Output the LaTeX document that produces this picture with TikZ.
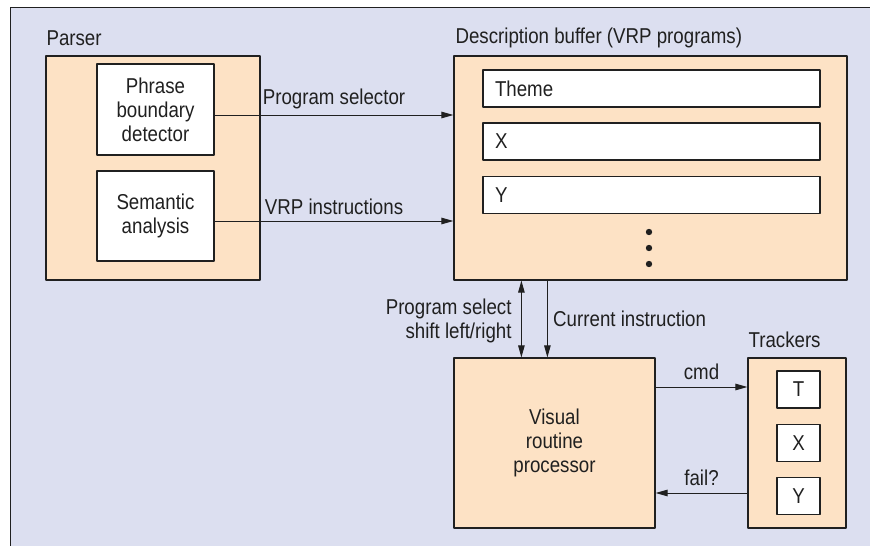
\documentclass[tikz,border=0pt]{standalone}
\usepackage{fontspec}
\setmainfont{Liberation Sans}[FakeStretch=0.87]
\usetikzlibrary{arrows.meta}
\definecolor{panelblue}{RGB}{220,223,240}
\definecolor{peach}{RGB}{253,226,197}
\definecolor{ink}{RGB}{32,32,32}
\begin{document}
\begin{tikzpicture}[x=1pt,y=-1pt,
		font=\fontsize{21.5}{24}\selectfont, text=ink, line join=round,
		>={Triangle[length=12pt,width=6.5pt]},
		unit/.style={draw=ink, line width=1.2pt, fill=peach, inner sep=0pt},
		part/.style={draw=ink, line width=1.2pt, fill=white, inner sep=0pt, align=center},
		link/.style={draw=ink, line width=1pt, ->}]
	\useasboundingbox (0,0) rectangle (870,546);
	% background panel
	\fill[panelblue] (10,7) rectangle (870,546);
	\draw[ink, line width=1pt] (870,7) -- (10,7) -- (10,546);

	% parser
	\node[anchor=west] (lparser) at (43,38) {Parser};
	\node[unit, minimum width=214pt, minimum height=224pt] (parser) at (153,168) {};
	\node[part, minimum width=117pt, minimum height=91pt] (phrase) at (155.5,109.5) {Phrase\\boundary\\detector};
	\node[part, minimum width=117pt, minimum height=90pt] (semantic) at (155.5,216) {Semantic\\analysis};

	% description buffer
	\node[anchor=west] (lbuffer) at (452,38) {Description buffer (VRP programs)};
	\node[unit, minimum width=393pt, minimum height=224pt] (buffer) at (650.5,168) {};
	\foreach \y/\name in {88.5/Theme,141.5/X,195/Y}
		\node[part, minimum width=337pt, minimum height=37pt, text width=313pt, align=left] (slot\name) at (651.5,\y) {\name};
	\foreach \y in {232,248,264}
		\fill[ink] (649,\y) circle (3.2pt);

	% visual routine processor and trackers
	\node[unit, minimum width=201pt, minimum height=170pt, align=center] (proc) at (554.5,443) {Visual\\routine\\processor};
	\node[anchor=west] (ltrackers) at (745,340) {Trackers};
	\node[unit, minimum width=98pt, minimum height=170pt] (trackers) at (797,443) {};
	\foreach \y/\name in {389.5/T,443/X,496/Y}
		\node[part, minimum width=43pt, minimum height=37pt] (trk\name) at (798.5,\y) {\name};

	% connectors
	\draw[link] ([yshift=-5.5pt]phrase.east) -- ([yshift=-5.5pt]phrase.east -| buffer.west)
		node[midway, above=2pt] {Program selector};
	\draw[link] ([yshift=-5pt]semantic.east) -- ([yshift=-5pt]semantic.east -| buffer.west)
		node[midway, above=2pt] {VRP instructions};
	\coordinate (upx) at ([xshift=68pt]proc.north west);
	\coordinate (downx) at ([xshift=94pt]proc.north west);
	\draw[link, <->] (upx) -- (upx |- buffer.south)
		node[pos=0.47, left=6pt, align=right] {Program select\\shift left/right};
	\draw[link] (downx |- buffer.south) -- (downx)
		node[pos=0.5, right=2pt] {Current instruction};
	\draw[link] ([yshift=2.5pt]proc.east |- trkT) -- ([yshift=2.5pt]trackers.west |- trkT)
		node[midway, above=3pt] {cmd};
	\draw[link] ([yshift=3pt]trackers.west |- trkY) -- ([yshift=3pt]proc.east |- trkY)
		node[midway, above=3pt] {fail?};
\end{tikzpicture}
\end{document}
